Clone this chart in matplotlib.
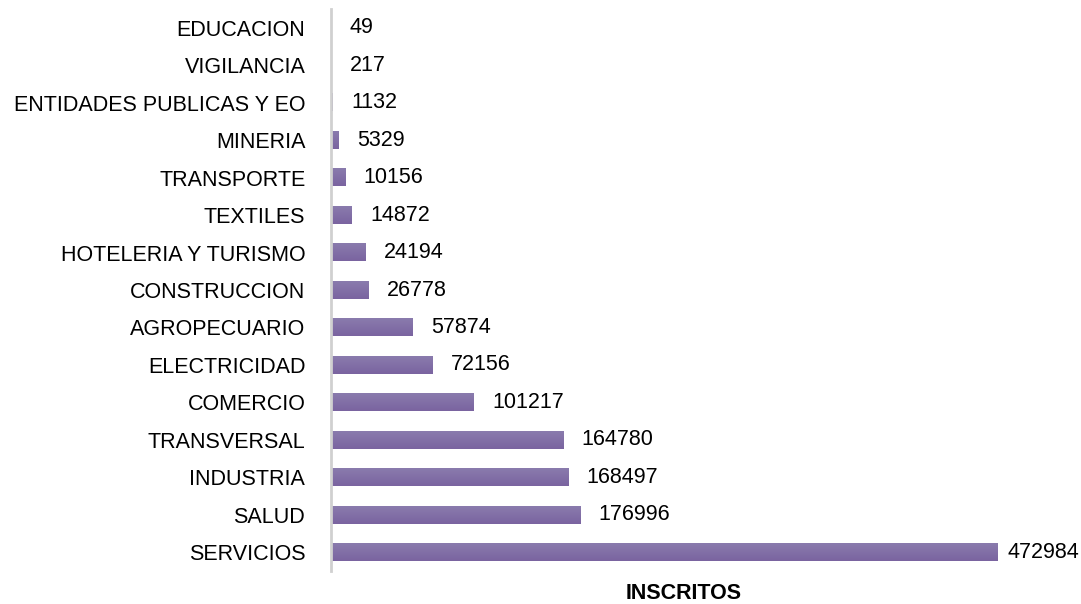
import numpy as np
import matplotlib.pyplot as plt
from matplotlib.colors import LinearSegmentedColormap

# =====================================================
# Data
# =====================================================

sectores = [
    "SERVICIOS", "SALUD", "INDUSTRIA", "TRANSVERSAL", "COMERCIO",
    "ELECTRICIDAD", "AGROPECUARIO", "CONSTRUCCION", "HOTELERIA Y TURISMO",
    "TEXTILES", "TRANSPORTE", "MINERIA", "ENTIDADES PUBLICAS Y EO",
    "VIGILANCIA", "EDUCACION",
]

inscritos = [
    472984, 176996, 168497, 164780, 101217,
    72156, 57874, 26778, 24194,
    14872, 10156, 5329, 1132,
    217, 49,
]

plt.rcParams["font.family"] = ["Liberation Sans", "DejaVu Sans"]

# =====================================================
# Plot
# =====================================================

fig = plt.figure(figsize=(10.81, 6.04), dpi=100)
ax = fig.add_axes([0.3062, 0.0546, 0.678, 0.9305])

y = np.arange(len(sectores))
bars = ax.barh(y, inscritos, height=0.47, color="none", edgecolor="none")

# vertical gradient inside every bar
cmap = LinearSegmentedColormap.from_list("lila", ["#7a64a0", "#8a7bad"])
grad = np.linspace(0, 1, 32).reshape(-1, 1)
for b in bars:
    x0, y0 = b.get_x(), b.get_y()
    ax.imshow(grad, extent=[x0, x0 + b.get_width(), y0, y0 + b.get_height()],
              cmap=cmap, aspect="auto", origin="lower", zorder=2)

xmax = 520000
for i, v in enumerate(inscritos):
    ax.text(min(v + 13000, 479800), i, str(v), va="center", ha="left",
            fontsize=15.5, color="black")

ax.set_yticks(y)
ax.set_yticklabels(sectores, fontsize=15.5)
ax.set_ylim(-0.5, len(sectores) - 0.5)
ax.set_xlim(0, xmax)
ax.set_xticks([])

for s in ["top", "right", "bottom"]:
    ax.spines[s].set_visible(False)
ax.spines["left"].set_color("#d0d0d0")
ax.spines["left"].set_linewidth(2)
ax.tick_params(axis="y", length=0, pad=18.5)

fig.text(0.632, 0.0, "INSCRITOS", ha="center", va="bottom",
         fontsize=15.5, fontweight="bold")

plt.savefig("out.png", dpi=100)
